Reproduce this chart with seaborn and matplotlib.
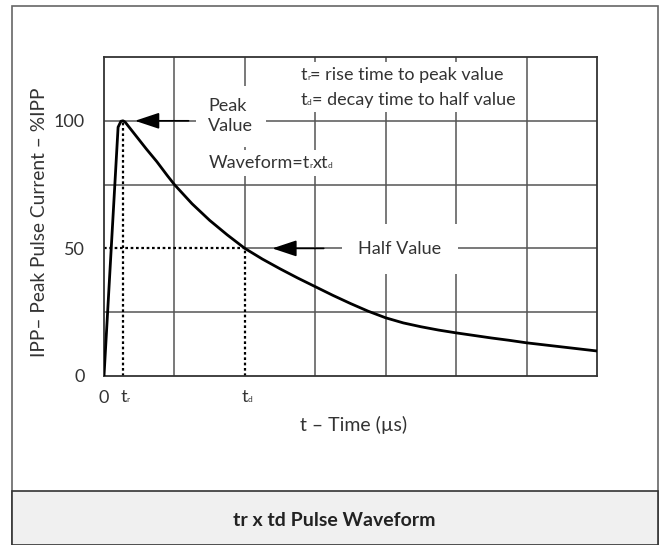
"""
tr x td pulse waveform - peak pulse current vs time
"""
import numpy as np
import pandas as pd
import matplotlib
matplotlib.use('Agg')
import matplotlib.pyplot as plt
from matplotlib.patches import Rectangle
from matplotlib.offsetbox import TextArea, HPacker, VPacker, AnnotationBbox
import seaborn as sns

# Waveform (x in grid units, y in %IPP)
t_us = [0, 0.20, 0.24, 0.27, 0.30, 0.40, 0.5, 0.6, 0.75, 0.9, 1.0, 1.25, 1.5, 1.75,
        2.0, 2.25, 2.5, 2.75, 3.0, 3.25, 3.5, 3.75, 4.0, 4.25, 4.5, 4.75,
        5.0, 5.25, 5.5, 5.75, 6.0, 6.25, 6.5, 6.75, 7.0]
ipp_pct = [0, 97.5, 99.8, 100, 99.5, 96, 92.5, 89, 84, 78.5, 75, 67.5, 61, 55.3,
           50, 45.8, 42, 38.4, 35, 31.6, 28.4, 25.4, 22.8, 20.8, 19.3, 18.0,
           16.9, 15.9, 14.9, 14.0, 13.0, 12.2, 11.4, 10.6, 9.8]

tr = 0.27
td = 2.0
half_value = 50
peak_value = 100

x_grid = [1, 2, 3, 4, 5, 6]
y_grid = [25, 50, 75, 100]
y_ticks = [0, 50, 100]
y_tick_labels = ['0', '50', '100']
x_ticks = [0, tr, td]
x_tick_labels = ['0', '', '']
x_tick_subs = [None, 'r', 'd']

sns.set_style('white')
plt.rcParams['font.family'] = ['Lato', 'DejaVu Sans']

TXT = '#333333'
GRID = '#555555'
FS = 13
SUB = 6


def rich_line(pieces, size=FS):
    """pieces: list of (text, is_subscript)"""
    kids = []
    for txt, is_sub in pieces:
        kids.append(TextArea(txt, textprops=dict(fontsize=SUB if is_sub else size, color=TXT)))
    return HPacker(children=kids, align='baseline', pad=0, sep=0)


def place(ax, box, xy, frame=True, align=(0, 0.5), xycoords='data', offset=None, pad=0.35):
    kw = {}
    if offset is not None:
        kw = dict(xybox=offset, boxcoords='offset points')
    ab = AnnotationBbox(box, xy, xycoords=xycoords, box_alignment=align, frameon=frame,
                        pad=pad, bboxprops=dict(facecolor='white', edgecolor='none'), **kw)
    ab.set_zorder(3)
    ax.add_artist(ab)


fig = plt.figure(figsize=(6.67, 5.45), dpi=100)

# outer frame and caption band
fig.patches.append(Rectangle((12 / 667, 0), (658 - 12) / 667, 1 - 6 / 545,
                             transform=fig.transFigure, facecolor='white',
                             edgecolor='#666666', linewidth=1.2, zorder=0))
fig.patches.append(Rectangle((12 / 667, 0), (658 - 12) / 667, (545 - 491) / 545,
                             transform=fig.transFigure, facecolor='#f0f0f0',
                             edgecolor='#333333', linewidth=1.2, zorder=0))
fig.text(334 / 667, 1 - 520 / 545, 'tr x td Pulse Waveform', ha='center', va='center',
         fontsize=14, fontweight='bold', color='#222222')

ax = fig.add_axes([104 / 667, 1 - 376 / 545, (597 - 104) / 667, (376 - 57) / 545])
ax.set_zorder(3)
ax.set_facecolor('white')
ax.set_xlim(0, 7)
ax.set_ylim(0, 125)

# grid
for gx in x_grid:
    lo = half_value / 125 if gx == td else 0
    ax.axvline(gx, ymin=lo, color=GRID, linewidth=1.1, zorder=1)
for gy in y_grid:
    lo = td / 7 if gy == half_value else 0
    ax.axhline(gy, xmin=lo, color=GRID, linewidth=1.1, zorder=1)

# dotted markers for tr / td
dot = dict(color='black', linestyle=(0, (1.2, 1.2)), linewidth=1.6, zorder=2)
ax.plot([tr, tr], [0, peak_value], **dot)
ax.plot([td, td], [0, half_value], **dot)
ax.plot([0, td], [half_value, half_value], **dot)

df = pd.DataFrame({'t': t_us, 'ipp': ipp_pct})
sns.lineplot(data=df, x='t', y='ipp', color='black', linewidth=2.0, ax=ax, zorder=4,
             solid_joinstyle='round')

box = dict(facecolor='white', edgecolor='none', pad=9)
ax.text(1.48, 101.8, 'Peak\nValue', ha='left', va='center', fontsize=FS, color=TXT,
        linespacing=1.3, bbox=box, zorder=3)
ax.text(3.61, 49.8, 'Half Value', ha='left', va='center', fontsize=FS, color=TXT,
        bbox=dict(facecolor='white', edgecolor='none', pad=12), zorder=3)

place(ax, rich_line([('Waveform=t', False), ('r', True), ('xt', False), ('d', True)]),
      (1.48, 83.5))
legend_box = VPacker(children=[
    rich_line([('t', False), ('r', True), ('= rise time to peak value', False)]),
    rich_line([('t', False), ('d', True), ('= decay time to half value', False)]),
], align='left', pad=0, sep=6)
place(ax, legend_box, (2.79, 113.1))

arrow = dict(arrowstyle='-|>,head_length=1.5,head_width=0.5', color='black', linewidth=1.2,
             shrinkA=0, shrinkB=0)
ax.annotate('', xy=(0.44, peak_value), xytext=(1.2, peak_value), arrowprops=arrow, zorder=5)
ax.annotate('', xy=(2.39, half_value), xytext=(3.12, half_value), arrowprops=arrow, zorder=5)

ax.set_xticks(x_ticks)
ax.set_xticklabels(x_tick_labels)
ax.set_yticks(y_ticks)
ax.set_yticklabels(y_tick_labels)
ax.tick_params(axis='both', length=0, labelsize=FS, labelcolor=TXT)
ax.tick_params(axis='y', pad=14)
ax.tick_params(axis='x', pad=10)
for xt, sub in zip(x_ticks, x_tick_subs):
    if sub is None:
        continue
    place(ax, rich_line([('t', False), (sub, True)]), (xt, 0), frame=False, align=(0.3, 0.5),
          xycoords=('data', 'axes fraction'), offset=(0, -15))
ax.set_xlabel('')
ax.set_ylabel('')
for s in ax.spines.values():
    s.set_visible(True)
    s.set_color('#333333')
    s.set_linewidth(1.3)

fig.text(354 / 667, 1 - 425 / 545, 't – Time (µs)', ha='center', va='center',
         fontsize=14, color=TXT)
fig.text(40 / 667, 1 - 222 / 545, 'IPP– Peak Pulse Current – %IPP', ha='center', va='center',
         rotation=90, fontsize=13.8, color=TXT)

fig.savefig('out.png', dpi=100, facecolor='white')
